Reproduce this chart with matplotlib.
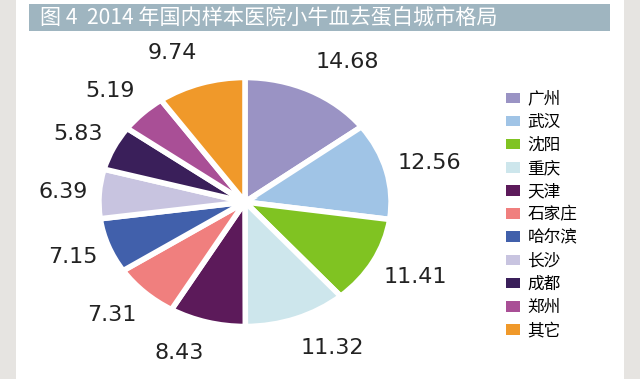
import matplotlib
matplotlib.use("Agg")
import matplotlib.pyplot as plt
from matplotlib.patches import Rectangle, Patch

plt.rcParams['font.family'] = ['Noto Sans CJK SC', 'DejaVu Sans']

title = "图 4  2014 年国内样本医院小牛血去蛋白城市格局"
cities = ["广州", "武汉", "沈阳", "重庆", "天津", "石家庄", "哈尔滨", "长沙", "成都", "郑州", "其它"]
shares = [14.68, 12.56, 11.41, 11.32, 8.43, 7.31, 7.15, 6.39, 5.83, 5.19, 9.74]
colors = ["#9a93c4", "#a0c4e6", "#80c322", "#cde6ec", "#5c1a5a", "#f07f7e",
          "#4160ab", "#c8c4e0", "#3a1f5a", "#a94f96", "#f0992a"]

W, H = 640, 379
fig = plt.figure(figsize=(W / 100, H / 100), dpi=100)
fig.patch.set_facecolor("white")

# side shadows
for x0, w in [(0, 16), (624, 16)]:
    fig.add_artist(Rectangle((x0 / W, 0), w / W, 1, transform=fig.transFigure,
                             facecolor="#e6e4e1", edgecolor="none", zorder=0))

# title bar
fig.add_artist(Rectangle((29 / W, 1 - 31 / H), (610 - 29) / W, 27 / H,
                         transform=fig.transFigure, facecolor="#9fb5c0",
                         edgecolor="none", zorder=1))
fig.text(40 / W, 1 - 17.5 / H, title, color="white", fontsize=15.2,
         va="center", ha="left", zorder=2)

cx, cy, rw, rh = 245, 202, 149, 127
ax = fig.add_axes([(cx - rw) / W, (H - cy - rh) / H, 2 * rw / W, 2 * rh / H])
wedges, texts = ax.pie(shares, colors=colors, startangle=90, counterclock=False,
                       labels=[f"{v:.2f}" for v in shares], labeldistance=1.08,
                       wedgeprops=dict(edgecolor="white", linewidth=4),
                       textprops=dict(fontsize=16, color="#222222",
                                      family="DejaVu Sans"))
for t in texts:
    x, y = t.get_position()
    t.set_position((x, y * 1.16))
ax.set_aspect("auto")
ax.set_xlim(-1.02, 1.02)
ax.set_ylim(-1.02, 1.02)
ax.axis("off")

handles = [Patch(facecolor=c, edgecolor="none") for c in colors]
fig.legend(handles, cities, loc="upper left", bbox_to_anchor=(499 / W, 1 - 84 / H),
           frameon=False, fontsize=12, handlelength=0.85, handleheight=0.6,
           handletextpad=0.45, labelspacing=0.37, borderaxespad=0)

fig.savefig("out.png", dpi=100, facecolor="white")
